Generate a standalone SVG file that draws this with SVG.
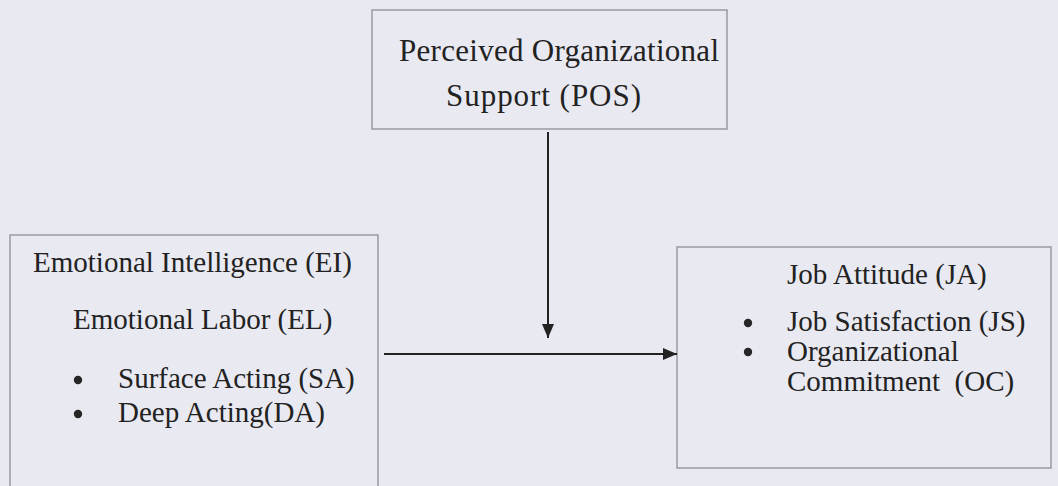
<svg xmlns="http://www.w3.org/2000/svg" width="1058" height="486" viewBox="0 0 1058 486">
  <style>
    .box { fill: none; stroke: #8e8e96; stroke-width: 1.3; }
    .lbl { font-family: "Liberation Serif", "Times New Roman", serif; font-size: 29px; fill: #222222; }
    .big { font-size: 31px; }
    .dot { fill: #262626; }
    .link { stroke: #222222; stroke-width: 2; fill: none; }
  </style>
  <defs>
    <marker id="arrow" viewBox="0 0 14 12" refX="14" refY="6" markerWidth="14" markerHeight="12" markerUnits="userSpaceOnUse" orient="auto">
      <path d="M0,0 L14,6 L0,12 Z" fill="#222222"/>
    </marker>
  </defs>

  <!-- page background -->
  <rect x="0" y="0" width="1058" height="486" fill="#e9e9f1"/>

  <!-- moderator -->
  <g id="pos">
    <rect class="box" x="372" y="10" width="355" height="119"/>
    <text class="lbl big" x="399" y="61" textLength="320" lengthAdjust="spacing">Perceived Organizational</text>
    <text class="lbl big" x="446" y="106" textLength="195" lengthAdjust="spacing">Support (POS)</text>
  </g>

  <!-- independent variables -->
  <g id="ei-el">
    <rect class="box" x="10" y="235" width="368" height="270"/>
    <text class="lbl" x="33" y="272">Emotional Intelligence (EI)</text>
    <text class="lbl" x="73" y="329">Emotional Labor (EL)</text>
    <circle class="dot" cx="78" cy="380" r="4.2"/>
    <text class="lbl" x="118" y="388">Surface Acting (SA)</text>
    <circle class="dot" cx="78" cy="414" r="4.2"/>
    <text class="lbl" x="118" y="422">Deep Acting(DA)</text>
  </g>

  <!-- dependent variables -->
  <g id="ja">
    <rect class="box" x="677" y="247" width="374" height="221"/>
    <text class="lbl" x="787" y="284">Job Attitude (JA)</text>
    <circle class="dot" cx="748" cy="323" r="4.2"/>
    <text class="lbl" x="787" y="331">Job Satisfaction (JS)</text>
    <circle class="dot" cx="748" cy="352" r="4.2"/>
    <text class="lbl" x="787" y="361">Organizational</text>
    <text class="lbl" x="787" y="391" xml:space="preserve">Commitment  (OC)</text>
  </g>

  <!-- connectors -->
  <g id="connectors">
    <line class="link" x1="548" y1="132" x2="548" y2="338" marker-end="url(#arrow)"/>
    <line class="link" x1="384" y1="354" x2="677" y2="354" marker-end="url(#arrow)"/>
  </g>
</svg>
